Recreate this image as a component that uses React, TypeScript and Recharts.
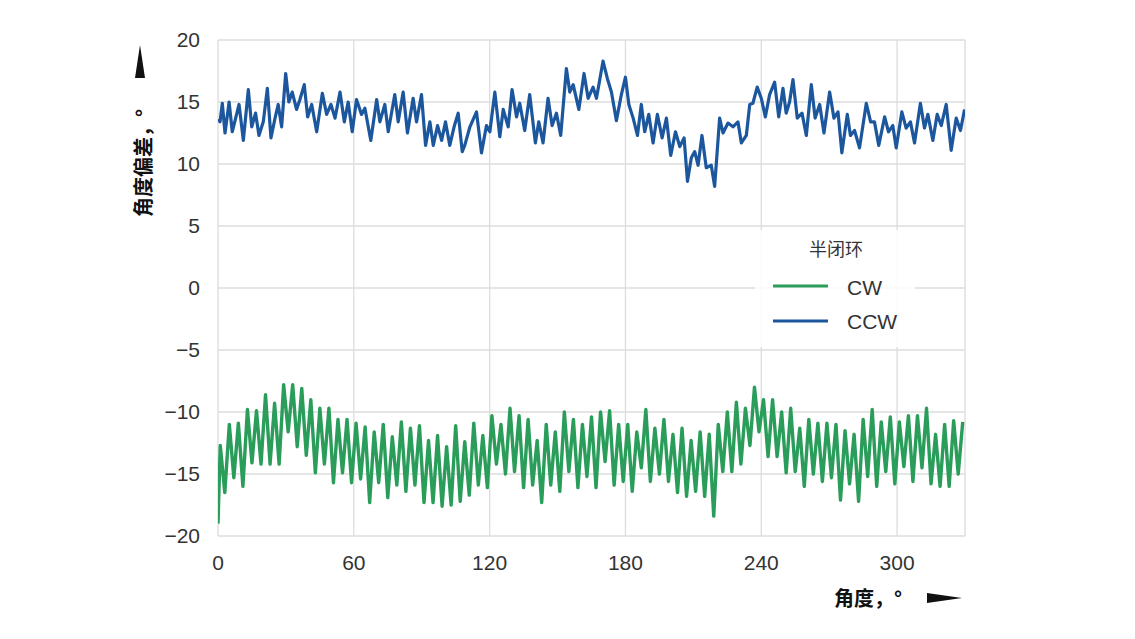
import React from 'react';
import { LineChart, Line, XAxis, YAxis, CartesianGrid } from 'recharts';

const W = 1135;
const H = 639;

// CW (green) series: angle in degrees, deviation in arc-seconds
const cwAngles = [
  0, 1, 3, 5, 7, 9, 11, 13, 15, 17, 19, 21, 23, 25, 27, 29, 31, 33, 35, 37, 39,
  41, 43, 45, 47, 49, 51, 53, 55, 57, 59, 61, 63, 65, 67, 69, 71, 73, 75, 77, 79,
  81, 83, 85, 87, 89, 91, 93, 95, 97, 99, 101, 103, 105, 107, 109, 111, 113, 115, 117, 119,
  121, 123, 125, 127, 129, 131, 133, 135, 137, 139, 141, 143, 145, 147, 149, 151, 153, 155, 157, 159,
  161, 163, 165, 167, 169, 171, 173, 175, 177, 179, 181, 183, 185, 187, 189, 191, 193, 195, 197, 199,
  201, 203, 205, 207, 209, 211, 213, 215, 217, 219, 221, 223, 225, 227, 229, 231, 233, 235, 237, 239,
  241, 243, 245, 247, 249, 251, 253, 255, 257, 259, 261, 263, 265, 267, 269, 271, 273, 275, 277, 279,
  281, 283, 285, 287, 289, 291, 293, 295, 297, 299, 301, 303, 305, 307, 309, 311, 313, 315, 317, 319,
  321, 323, 325, 327, 329,
];
const cwValues = [
  -19, -12.7, -16.5, -11.0, -15.3, -10.9, -16.0, -9.8, -14.1, -9.9, -14.2, -8.6, -14.2, -9.3, -14.2, -7.8,
  -11.6, -7.8, -12.8, -8.1, -13.5, -9.0, -14.9, -9.7, -14.2, -9.7, -15.7, -10.6, -14.9, -10.6, -15.7, -10.9,
  -15.4, -11.2, -17.3, -11.6, -15.7, -11.0, -16.9, -12.0, -15.9, -10.8,
  -16.4, -11.3, -15.9, -11.1, -17.3, -12.3, -17.3, -11.9, -17.6, -12.8, -17.5, -11.1, -17.2, -12.4, -16.7, -10.9,
  -15.9, -11.9, -16.1, -10.3, -14.2, -11.0, -15.0, -9.7, -14.8, -10.3, -16.1, -10.6, -15.9, -12.3, -17.3, -11.0,
  -15.9, -11.6, -16.4, -10.0, -14.8, -10.6, -16.1, -11.0,
  -15.2, -10.4, -16.1, -10.0, -14.0, -9.9, -15.9, -11.0, -15.6, -11.0, -16.4, -11.6, -14.5, -9.8, -15.6, -11.3,
  -15.0, -10.6, -15.6, -11.8, -16.5, -11.3, -16.8, -12.3, -16.4, -11.6, -16.8, -11.8, -18.4, -11.0, -14.8, -10.0,
  -14.8, -9.2, -14.2, -9.7, -12.7, -8.0, -11.6, -9.0,
  -13.6, -9.0, -13.6, -10.0, -14.9, -9.7, -14.8, -11.3, -16.0, -10.6, -15.0, -10.9, -15.6, -10.9, -15.3, -11.0,
  -17.1, -11.5, -15.8, -11.8, -17.2, -10.6, -15.2, -9.8, -16.0, -10.8, -14.8, -10.4, -15.8, -10.8, -14.4, -10.3,
  -15.6, -10.3, -14.5, -9.7, -15.8, -11.8, -16.0, -11.0, -16.0, -10.7, -15.0, -10.8,
];

// CCW (blue) series
const ccwAngles = [
  0, 0.9, 1.9, 3.1, 4.9, 6.3, 7.8, 9.3, 11.2, 13.4, 14.9, 16.6, 18.1, 20.0, 21.8, 23.4, 25.2, 26.6, 28.1, 29.9,
  31.3, 32.8, 34.7, 36.2, 38.1, 39.6, 41.4, 43.6, 46.1, 48.0, 49.9, 51.7, 53.9, 55.8, 57.5, 59.3, 61.2, 63.4,
  64.9, 67.5, 70.1, 71.5, 73.7, 75.2, 78.1, 79.6, 81.8, 83.7, 86.2, 87.7, 89.9, 91.7, 93.6, 95.1, 97.0, 98.8,
  100.5, 102.4, 104.3, 106.1, 107.9, 109.0, 111.3, 114.2, 116.4, 118.6, 120.1, 122.3, 124.5, 126.0, 128.2,
  129.9, 131.9, 133.3, 135.5, 137.7, 140.2, 141.7, 143.6, 145.8, 147.6, 149.5, 151.4, 153.9, 155.4, 156.9,
  159.4, 161.7, 163.5, 165.7, 167.2, 170.1, 172.0, 173.8, 176.0, 178.2, 180.0, 181.5, 183.4, 185.3, 187.0,
  188.5, 190.3, 192.2, 194.1, 196.2, 198.1, 200.0, 202.1, 204.0, 205.9, 207.4, 209.1, 210.6, 212.1, 213.8,
  215.7, 217.9, 219.4, 221.6, 223.1, 225.3, 227.5, 229.7, 231.2, 233.4, 234.9, 236.3, 238.2, 240.0, 241.8,
  243.7, 245.9, 247.7, 249.6, 251.0, 252.5, 254.0, 255.9, 258.0, 259.9, 262.1, 263.8, 265.8, 267.7, 270.2,
  272.1, 273.9, 275.6, 278.0, 279.4, 281.2, 283.4, 286.4, 288.3, 290.0, 291.9, 294.5, 296.2, 298.1, 299.6,
  302.1, 304.0, 305.9, 307.7, 310.3, 312.1, 313.6, 315.8, 317.7, 319.5, 321.7, 323.9, 326.1, 328.0, 329.8,
];
const ccwValues = [
  13.6, 13.4, 14.9, 12.5, 15.0, 12.6, 13.7, 14.8, 11.9, 16.0, 13.0, 14.1, 12.3, 13.4, 16.1, 12.1, 13.7, 14.8, 13.0, 17.3,
  15.0, 15.8, 14.4, 15.2, 16.4, 13.8, 14.8, 12.6, 15.7, 14.0, 14.8, 13.7, 15.8, 13.4, 15.0, 12.6, 15.2, 14.0,
  14.5, 11.9, 15.2, 13.4, 14.8, 12.6, 15.6, 13.4, 15.8, 12.5, 15.3, 13.4, 15.6, 11.5, 13.4, 11.5, 13.1, 11.9,
  13.4, 11.5, 13.0, 14.1, 11.0, 11.5, 13.0, 14.2, 10.9, 13.1, 12.6, 15.8, 12.2, 14.4, 13.0,
  16.0, 13.8, 14.9, 12.7, 15.6, 11.7, 13.4, 11.7, 15.3, 13.1, 14.1, 12.3, 17.7, 15.8, 16.4,
  14.4, 17.3, 15.3, 16.2, 15.3, 18.3, 16.9, 15.8, 13.5, 15.6, 17.0, 14.8, 13.7, 12.3, 14.8,
  12.6, 14.0, 11.7, 14.0, 12.1, 13.7, 10.7, 12.6, 11.4, 12.1, 8.6, 10.5, 11.0, 9.9, 12.3,
  9.7, 9.9, 8.2, 13.7, 12.5, 13.3, 13.0, 13.4, 11.7, 12.3, 14.8, 14.9, 16.2, 15.3, 13.8,
  15.6, 16.6, 13.8, 16.1, 14.1, 15.0, 16.8, 13.7, 14.1, 12.3, 16.4, 13.7, 14.8, 12.5, 15.8,
  13.7, 14.2, 10.9, 14.0, 12.3, 12.7, 11.3, 14.9, 13.4, 13.4, 11.5, 13.8, 12.6, 13.1, 11.3,
  14.2, 12.9, 13.4, 11.7, 14.9, 12.9, 14.0, 11.9, 14.0, 13.1, 14.8, 11.1, 13.7, 12.7, 14.4,
];

const xTicks = [0, 60, 120, 180, 240, 300, 330];
const yTicks = [-20, -15, -10, -5, 0, 5, 10, 15, 20];

const seriesNames = ['CW', 'CCW'];
const legendTitle = '半闭环';
const xLabel = '角度，°';
const yLabel = '角度偏差，°';

const cwData = cwAngles.slice(0, Math.min(cwAngles.length, cwValues.length)).map((a, i) => ({ a, v: cwValues[i] }));
const ccwData = ccwAngles.slice(0, Math.min(ccwAngles.length, ccwValues.length)).map((a, i) => ({ a, v: ccwValues[i] }));

const GREEN = '#2a9d5a';
const BLUE = '#1c579e';
const TICK_FONT = '"Liberation Sans", Arial, sans-serif';
const CJK_FONT = '"Noto Sans CJK SC", "Liberation Sans", sans-serif';

export default function App() {
  return (
    <div style={{ position: 'absolute', left: 0, top: 0, width: W, height: H, background: '#fff' }}>
      <LineChart width={W} height={H} margin={{ top: 40, right: 170, bottom: 73, left: 158 }}>
        <CartesianGrid stroke="#dcdcdc" strokeWidth={1.3} />
        <XAxis
          type="number"
          dataKey="a"
          domain={[0, 330]}
          ticks={xTicks}
          interval={0}
          allowDataOverflow
          tickFormatter={(v: number) => (v === 330 ? '' : String(v))}
          axisLine={false}
          tickLine={false}
          tickMargin={13}
          height={30}
          tick={{ fontSize: 21, fill: '#333', fontFamily: TICK_FONT }}
        />
        <YAxis
          type="number"
          domain={[-20, 20]}
          ticks={yTicks}
          interval={0}
          allowDataOverflow
          tickFormatter={(v: number) => String(v).replace('-', '\u2212')}
          axisLine={false}
          tickLine={false}
          tickMargin={12}
          width={60}
          tick={{ fontSize: 21, fill: '#333', fontFamily: TICK_FONT }}
        />
        <Line
          data={cwData}
          dataKey="v"
          name={seriesNames[0]}
          type="linear"
          stroke={GREEN}
          strokeWidth={3.4}
          strokeLinejoin="round"
          dot={false}
          isAnimationActive={false}
        />
        <Line
          data={ccwData}
          dataKey="v"
          name={seriesNames[1]}
          type="linear"
          stroke={BLUE}
          strokeWidth={3.2}
          strokeLinejoin="round"
          dot={false}
          isAnimationActive={false}
        />
      </LineChart>
      <svg
        width={W}
        height={H}
        style={{ position: 'absolute', left: 0, top: 0, pointerEvents: 'none' }}
      >
        {/* y-axis label and arrow */}
        <text
          transform="translate(142,163) rotate(-90)"
          textAnchor="middle"
          dominantBaseline="central"
          fontSize={20}
          fontWeight="bold"
          fontFamily={CJK_FONT}
          fill="#111"
        >
          {yLabel}
        </text>
        <polygon points="140,45 135,78 145,78" fill="#111" />
        {/* x-axis label and arrow */}
        <text
          x={868}
          y={597}
          textAnchor="middle"
          dominantBaseline="central"
          fontSize={20}
          fontWeight="bold"
          fontFamily={CJK_FONT}
          fill="#111"
        >
          {xLabel}
        </text>
        <polygon points="962,598 927,593 927,603" fill="#111" />
        {/* legend */}
        <rect x={755} y={230} width={160} height={117} fill="#fff" fillOpacity={0.85} />
        <text
          x={836}
          y={248}
          textAnchor="middle"
          dominantBaseline="central"
          fontSize={18}
          fontFamily={CJK_FONT}
          fill="#333"
        >
          {legendTitle}
        </text>
        <line x1={773} x2={828} y1={286} y2={286} stroke={GREEN} strokeWidth={3} />
        <text x={847} y={287} dominantBaseline="central" fontSize={21} fontFamily={TICK_FONT} fill="#333">
          {seriesNames[0]}
        </text>
        <line x1={773} x2={828} y1={321} y2={321} stroke={BLUE} strokeWidth={3} />
        <text x={847} y={321} dominantBaseline="central" fontSize={21} fontFamily={TICK_FONT} fill="#333">
          {seriesNames[1]}
        </text>
      </svg>
    </div>
  );
}
